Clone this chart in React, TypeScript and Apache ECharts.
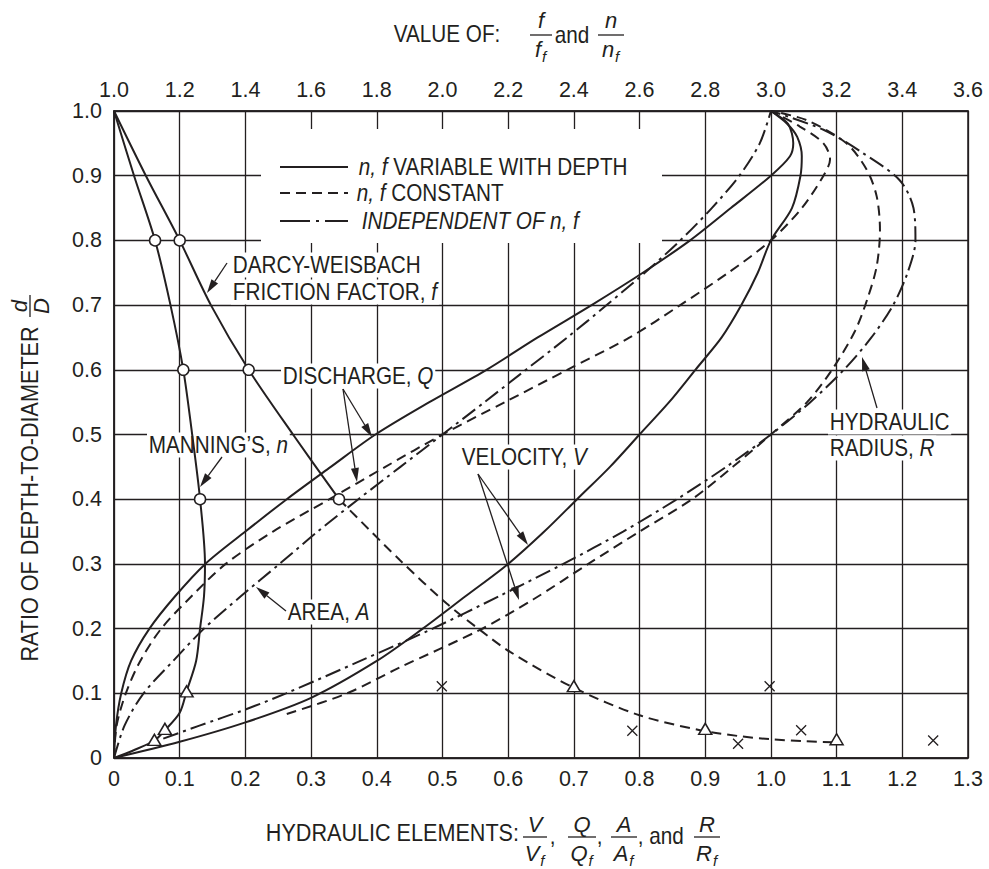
import React, { useEffect, useRef } from 'react';
import * as echarts from 'echarts';

const FONT = "'Liberation Sans', Arial, Helvetica, sans-serif";
const INK = '#231f20';

// ---- axes ----
const bottomRange = [0, 1.3];
const bottomStep = 0.1;
const topRange = [1.0, 3.6];
const topStep = 0.2;
const depthRange = [0, 1];
const depthStep = 0.1;

// ---- curves on the bottom axis: [hydraulic element, d/D] ----
const dischargeVariable: number[][] = [
  [0, 0], [0.003, 0.05], [0.011, 0.1], [0.026, 0.15], [0.054, 0.2], [0.093, 0.25], [0.139, 0.3],
  [0.2, 0.35], [0.263, 0.4], [0.33, 0.45], [0.398, 0.5], [0.48, 0.55], [0.567, 0.6], [0.645, 0.65],
  [0.727, 0.7], [0.805, 0.75], [0.877, 0.8], [0.939, 0.85], [1.0, 0.9], [1.029, 0.93], [1.034, 0.95],
  [1.026, 0.98], [1.0, 1.0],
];
const dischargeConstant: number[][] = [
  [0, 0], [0.004, 0.05], [0.018, 0.1], [0.04, 0.15], [0.072, 0.2], [0.118, 0.25], [0.17, 0.3],
  [0.242, 0.35], [0.328, 0.4], [0.413, 0.45], [0.5, 0.5], [0.595, 0.55], [0.69, 0.6], [0.785, 0.65],
  [0.862, 0.7], [0.935, 0.75], [1.0, 0.8], [1.047, 0.85], [1.08, 0.9], [1.09, 0.925], [1.08, 0.95],
  [1.044, 0.976], [1.0, 1.0],
];
const velocityVariable: number[][] = [
  [0, 0], [0.1, 0.025], [0.2, 0.055], [0.3, 0.093], [0.4, 0.15], [0.47, 0.2], [0.535, 0.25],
  [0.6, 0.3], [0.655, 0.35], [0.705, 0.4], [0.755, 0.45], [0.8, 0.5], [0.845, 0.55], [0.885, 0.6],
  [0.925, 0.65], [0.955, 0.7], [0.98, 0.75], [1.0, 0.8], [1.032, 0.85], [1.045, 0.9], [1.047, 0.93],
  [1.04, 0.96], [1.025, 0.98], [1.0, 1.0],
];
const velocityConstant: number[][] = [
  [0.263, 0.068], [0.355, 0.1], [0.435, 0.14], [0.557, 0.198], [0.638, 0.245], [0.722, 0.3],
  [0.8, 0.35], [0.88, 0.4], [0.942, 0.45], [1.0, 0.5], [1.055, 0.55], [1.093, 0.6], [1.128, 0.66],
  [1.147, 0.71], [1.161, 0.76], [1.166, 0.816], [1.161, 0.868], [1.146, 0.909], [1.115, 0.95],
  [1.054, 0.986], [1.0, 1.0],
];
const area: number[][] = [
  [0, 0], [0.016, 0.05], [0.045, 0.1], [0.09, 0.15], [0.137, 0.2], [0.193, 0.25], [0.252, 0.3],
  [0.31, 0.35], [0.372, 0.4], [0.436, 0.45], [0.5, 0.5], [0.564, 0.55], [0.627, 0.6], [0.69, 0.65],
  [0.75, 0.7], [0.808, 0.75], [0.862, 0.8], [0.91, 0.85], [0.952, 0.9], [0.983, 0.95], [1.0, 1.0],
];
const hydraulicRadius: number[][] = [
  [0.075, 0.03], [0.13, 0.05], [0.2, 0.075], [0.262, 0.1], [0.375, 0.15], [0.485, 0.2], [0.586, 0.25],
  [0.684, 0.3], [0.775, 0.35], [0.857, 0.4], [0.932, 0.45], [1.0, 0.5], [1.06, 0.55], [1.111, 0.6],
  [1.153, 0.65], [1.186, 0.7], [1.208, 0.75], [1.22, 0.8], [1.217, 0.85], [1.196, 0.893],
  [1.14, 0.935], [1.08, 0.971], [1.0, 1.0],
];

// ---- curves on the top axis: [f/ff or n/nf, d/D] ----
const manningN: number[][] = [
  [1.0, 1.0], [1.061, 0.9], [1.125, 0.8], [1.172, 0.7], [1.211, 0.6], [1.238, 0.5], [1.262, 0.4],
  [1.277, 0.3], [1.274, 0.25], [1.262, 0.2], [1.25, 0.15], [1.221, 0.103], [1.2, 0.07],
  [1.155, 0.043], [1.123, 0.027], [1.06, 0.012], [1.0, 0],
];
const darcyFSolid: number[][] = [
  [1.0, 1.0], [1.097, 0.9], [1.2, 0.8], [1.295, 0.7], [1.41, 0.6], [1.545, 0.5], [1.685, 0.4],
];
const darcyFDashed: number[][] = [
  [1.685, 0.4], [1.87, 0.306], [2.012, 0.239], [2.114, 0.198], [2.206, 0.164], [2.398, 0.109],
  [2.6, 0.066], [2.784, 0.043], [2.9, 0.034], [3.0, 0.029], [3.1, 0.026], [3.2, 0.024],
];

// ---- plotted test points (top axis) ----
const circlePoints: number[][] = [
  [1.125, 0.8], [1.211, 0.6], [1.262, 0.4], [1.2, 0.8], [1.41, 0.6], [1.685, 0.4],
];
const trianglePoints: number[][] = [
  [1.221, 0.103], [1.155, 0.045], [1.123, 0.028], [2.4, 0.111], [2.8, 0.045], [3.2, 0.029],
];
const crossPoints: number[][] = [
  [1.998, 0.111], [2.578, 0.042], [2.9, 0.022], [2.996, 0.111], [3.092, 0.043], [3.494, 0.027],
];

const DASH = [10, 6];
const DASHDOT = [16, 5, 3, 5];

function curve(name: string, data: number[][], xAxisIndex: number, type: any) {
  return {
    type: 'line', name, data, xAxisIndex, yAxisIndex: 0,
    symbol: 'none', showSymbol: false, smooth: 0.3, silent: true, z: 3,
    lineStyle: { color: INK, width: 2, type },
  };
}

function arrow(x1: number, y1: number, x2: number, y2: number) {
  const a = Math.atan2(y2 - y1, x2 - x1);
  const L = 14, W = 4;
  const bx = x2 - L * Math.cos(a), by = y2 - L * Math.sin(a);
  const px = -Math.sin(a) * W, py = Math.cos(a) * W;
  return [
    { type: 'line', z: 5, shape: { x1, y1, x2: bx, y2: by }, style: { stroke: INK, lineWidth: 1.3 } },
    { type: 'polygon', z: 5, shape: { points: [[x2, y2], [bx + px, by + py], [bx - px, by - py]] }, style: { fill: INK } },
  ];
}

const rich = {
  i: { fontStyle: 'italic', fontSize: 23, fontFamily: FONT, fill: INK },
};

function label(x: number, y: number, text: string, size = 23, bg = true) {
  return {
    type: 'text', x, y, z: 1, scaleX: 0.9,
    style: {
      text, font: `${size}px ${FONT}`, fill: INK, textAlign: 'left', textVerticalAlign: 'middle',
      backgroundColor: bg ? '#fff' : undefined, padding: [1, 2], rich,
    },
  };
}

const LETTER_W: Record<string, number> = { V: 14.7, Q: 17, A: 14.7, R: 15.9, f: 6.2, n: 12.2 };

function fraction(cx: number, yNum: number, yBar: number, yDen: number, letter: string, half: number) {
  const w = LETTER_W[letter] || 12;
  return [
    { type: 'text', x: cx, y: yNum, z: 1, style: { text: letter, font: `italic 22px ${FONT}`, fill: INK, textAlign: 'center', textVerticalAlign: 'middle' } },
    { type: 'line', z: 1, shape: { x1: cx - half, y1: yBar, x2: cx + half, y2: yBar }, style: { stroke: INK, lineWidth: 1.3 } },
    { type: 'text', x: cx - 3, y: yDen, z: 1, style: { text: letter, font: `italic 22px ${FONT}`, fill: INK, textAlign: 'center', textVerticalAlign: 'middle' } },
    { type: 'text', x: cx - 3 + w / 2 + 1, y: yDen + 7, z: 1, style: { text: 'f', font: `italic 15px ${FONT}`, fill: INK, textAlign: 'left', textVerticalAlign: 'middle' } },
  ];
}

function buildOption() {
  const axisFont = { fontFamily: FONT, fontSize: 21.5, color: INK };
  const graphics: any[] = [
    // legend box
    { type: 'rect', z: 1, shape: { x: 261, y: 129, width: 401, height: 114 }, style: { fill: '#fff' } },
    { type: 'line', z: 1, shape: { x1: 280, y1: 167, x2: 348, y2: 167 }, style: { stroke: INK, lineWidth: 2 } },
    { type: 'line', z: 1, shape: { x1: 280, y1: 193, x2: 348, y2: 193 }, style: { stroke: INK, lineWidth: 2, lineDash: DASH } },
    { type: 'line', z: 1, shape: { x1: 280, y1: 221, x2: 348, y2: 221 }, style: { stroke: INK, lineWidth: 2, lineDash: [30, 6, 3, 6] } },
    label(357, 167, '{i|n, f} VARIABLE WITH DEPTH', 23, false),
    label(355, 193, '{i|n, f} CONSTANT', 23, false),
    label(360, 221, '{i|INDEPENDENT OF n, f}', 23, false),
    // curve labels
    label(231, 265, 'DARCY-WEISBACH'),
    label(231, 292, 'FRICTION FACTOR, {i|f}'),
    label(147, 445, "MANNING\u2019S, {i|n}"),
    label(281, 376, 'DISCHARGE, {i|Q}'),
    label(460, 457, 'VELOCITY, {i|V}'),
    label(286, 612, 'AREA, {i|A}'),
    label(828, 422, 'HYDRAULIC'),
    label(828, 448, 'RADIUS, {i|R}'),
    ...arrow(227, 263, 207, 293),
    ...arrow(222, 457, 200, 487),
    ...arrow(343, 389, 372, 437),
    ...arrow(343, 389, 357, 482),
    ...arrow(478, 474, 528, 545),
    ...arrow(478, 474, 519, 600),
    ...arrow(286, 611, 256, 587),
    ...arrow(877, 408, 862, 357),
    // top title
    label(392, 34, 'VALUE OF:', 23, false),
    ...fraction(541, 20, 35, 49, 'f', 11),
    label(553, 35, 'and', 23, false),
    ...fraction(611, 20, 35, 49, 'n', 13),
    // bottom title
    label(264, 833, 'HYDRAULIC ELEMENTS:', 24, false),
    ...fraction(535, 824, 837, 853, 'V', 12),
    label(548, 836, ',', 23, false),
    ...fraction(582, 824, 837, 853, 'Q', 14),
    label(595, 836, ',', 23, false),
    ...fraction(624, 824, 837, 853, 'A', 13),
    label(636, 836, ', and', 23, false),
    ...fraction(707, 824, 837, 853, 'R', 13),
    // y title
    {
      type: 'text', x: 30, y: 494, rotation: Math.PI / 2, z: 1, scaleX: 0.9,
      style: { text: 'RATIO OF DEPTH-TO-DIAMETER', font: `24px ${FONT}`, fill: INK, textAlign: 'center', textVerticalAlign: 'middle' },
    },
    { type: 'text', x: 19, y: 306, rotation: Math.PI / 2, z: 1, style: { text: 'd', font: `italic 22px ${FONT}`, fill: INK, textAlign: 'center', textVerticalAlign: 'middle' } },
    { type: 'line', z: 1, shape: { x1: 30, y1: 295, x2: 30, y2: 317 }, style: { stroke: INK, lineWidth: 1.3 } },
    { type: 'text', x: 41, y: 306, rotation: Math.PI / 2, z: 1, style: { text: 'D', font: `italic 22px ${FONT}`, fill: INK, textAlign: 'center', textVerticalAlign: 'middle' } },
  ];

  const fmt = (v: number) => (Math.abs(v) < 1e-9 ? '0' : v.toFixed(1));
  const markerStyle = { color: '#fff', borderColor: INK, borderWidth: 1.5, opacity: 1 };

  return {
    animation: false,
    backgroundColor: '#fff',
    grid: { left: 114, right: 21, top: 111, bottom: 111, show: true, borderColor: INK, borderWidth: 1.5, backgroundColor: 'transparent' },
    xAxis: [
      {
        type: 'value', position: 'bottom', min: bottomRange[0], max: bottomRange[1], interval: bottomStep,
        axisLine: { show: true, lineStyle: { color: INK, width: 1.5 } }, axisTick: { show: false },
        axisLabel: { ...axisFont, margin: 10, formatter: fmt },
        splitLine: { show: true, lineStyle: { color: INK, width: 1.3 } },
      },
      {
        type: 'value', position: 'top', min: topRange[0], max: topRange[1], interval: topStep,
        axisLine: { show: true, lineStyle: { color: INK, width: 1.5 } }, axisTick: { show: false },
        axisLabel: { ...axisFont, margin: 10, formatter: (v: number) => v.toFixed(1) },
        splitLine: { show: false },
      },
    ],
    yAxis: [
      {
        type: 'value', min: depthRange[0], max: depthRange[1], interval: depthStep,
        axisLine: { show: true, lineStyle: { color: INK, width: 1.5 } }, axisTick: { show: false },
        axisLabel: { ...axisFont, margin: 12, formatter: fmt },
        splitLine: { show: true, lineStyle: { color: INK, width: 1.3 } },
      },
    ],
    graphic: { elements: graphics },
    series: [
      curve('Q variable', dischargeVariable, 0, 'solid'),
      curve('Q constant', dischargeConstant, 0, DASH),
      curve('V variable', velocityVariable, 0, 'solid'),
      curve('V constant', velocityConstant, 0, DASH),
      curve('Area', area, 0, DASHDOT),
      curve('Hydraulic radius', hydraulicRadius, 0, DASHDOT),
      curve("Manning's n", manningN, 1, 'solid'),
      curve('Darcy f', darcyFSolid, 1, 'solid'),
      curve('Darcy f (ext.)', darcyFDashed, 1, DASH),
      {
        type: 'scatter', name: 'circles', data: circlePoints, xAxisIndex: 1, z: 6, silent: true,
        symbol: 'circle', symbolSize: 11, itemStyle: markerStyle,
      },
      {
        type: 'scatter', name: 'triangles', data: trianglePoints, xAxisIndex: 1, z: 6, silent: true,
        symbol: 'triangle', symbolSize: [13, 11], itemStyle: markerStyle,
      },
      {
        type: 'scatter', name: 'crosses', data: crossPoints, xAxisIndex: 1, z: 6, silent: true,
        symbol: 'path://M0,0L10,10M10,0L0,10', symbolSize: 10,
        itemStyle: { color: 'none', borderColor: INK, borderWidth: 1.3, opacity: 1 },
      },
    ],
  };
}

export default function App() {
  const ref = useRef<HTMLDivElement>(null);
  useEffect(() => {
    if (!ref.current) return;
    const chart = echarts.init(ref.current, undefined, { renderer: 'svg' });
    chart.setOption(buildOption() as any);
    return () => chart.dispose();
  }, []);
  return (
    <div
      ref={ref}
      style={{ position: 'absolute', left: 0, top: 0, width: 989, height: 869, background: '#fff' }}
    />
  );
}
